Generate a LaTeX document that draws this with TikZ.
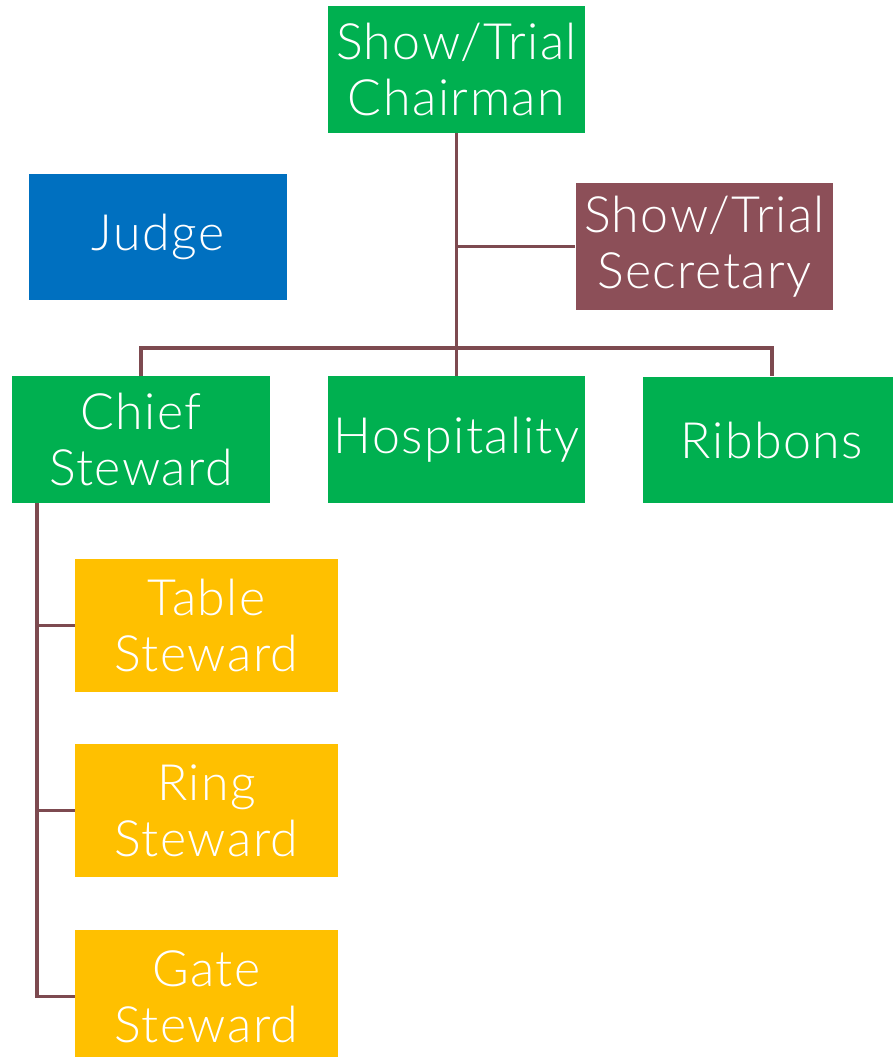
\documentclass[tikz,border=0pt]{standalone}
\usepackage{fontspec}
\setmainfont{Lato Light}[LetterSpace=3]
\definecolor{chairgreen}{HTML}{00B050}
\definecolor{judgeblue}{HTML}{0070C0}
\definecolor{secmaroon}{HTML}{8C4F58}
\definecolor{stewgold}{HTML}{FFC000}
\definecolor{linkred}{HTML}{7D4A50}
\begin{document}
\begin{tikzpicture}[x=0.02cm, y=-0.02cm,
  box/.style={fill=#1, text=white, align=center, inner sep=0pt,
    minimum width=5.16cm, minimum height=2.54cm,
    font=\fontsize{28.5}{31.7}\selectfont},
  stew/.style={box=stewgold, minimum width=5.26cm, minimum height=2.66cm},
  link/.style={draw=linkred, line width=2pt}]
\useasboundingbox (0,0) rectangle (892,1057);
\node[box=chairgreen] (chair) at (456.5,69.5) {Show/Trial\\Chairman};
\node[box=judgeblue] (judge) at (158,237) {Judge};
\node[box=secmaroon] (sec) at (704.5,246.5) {Show/Trial\\Secretary};
\node[box=chairgreen] (chief) at (141,439.5) {Chief\\Steward};
\node[box=chairgreen] (hosp) at (456.5,439.5) {Hospitality};
\node[box=chairgreen] (ribbons) at (772,440) {Ribbons};
\node[stew] (table) at (206.5,625.5) {Table\\Steward};
\node[stew] (ring) at (206.5,810.5) {Ring\\Steward};
\node[stew] (gate) at (206.5,996.5) {Gate\\Steward};
% top tier
\coordinate (bar) at (0,348);
\draw[link] (chair.south) -- (chair.south |- bar);
\draw[link] (sec.west) -- (sec.west -| chair.south);
\draw[link] (chief.north) |- (ribbons.north |- bar) -- (ribbons.north);
\draw[link] (hosp.north) -- (hosp.north |- bar);
% stewards
\coordinate (spine) at (37,503);
\draw[link] (spine) |- (gate.west);
\draw[link] (spine |- table.west) -- (table.west);
\draw[link] (spine |- ring.west) -- (ring.west);
\end{tikzpicture}
\end{document}
